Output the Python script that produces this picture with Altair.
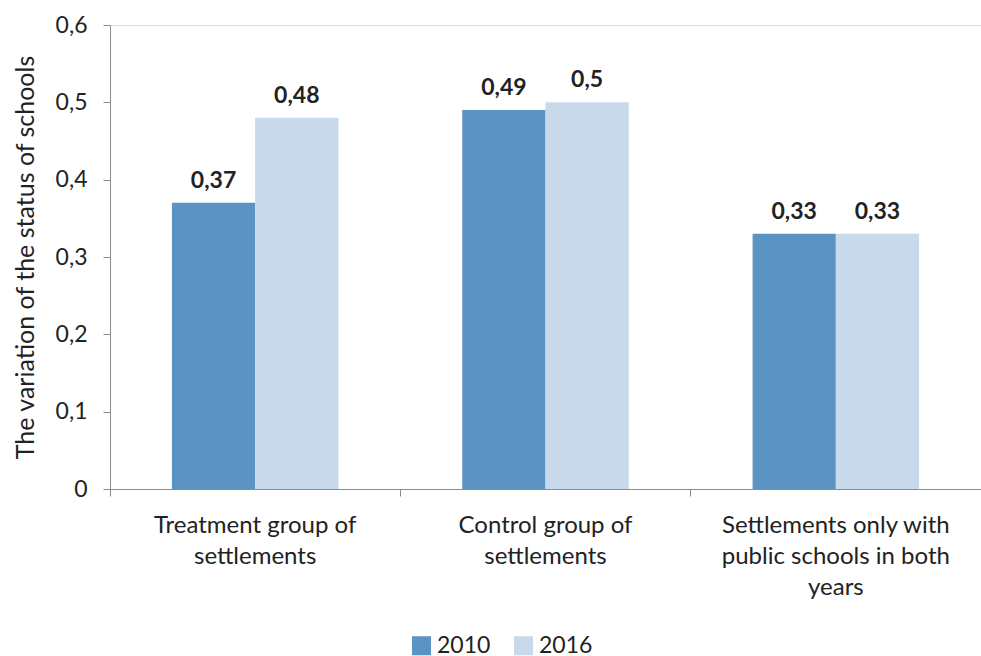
import altair as alt
import pandas as pd

# Groups of settlements and the two survey years
categories = [
    "Treatment group of settlements",
    "Control group of settlements",
    "Settlements only with public schools in both years",
]
category_lines = [
    ["Treatment group of", "settlements"],
    ["Control group of", "settlements"],
    ["Settlements only with", "public schools in both", "years"],
]
years = ["2010", "2016"]
values_2010 = [0.37, 0.49, 0.33]
values_2016 = [0.48, 0.50, 0.33]
colors = ["#5b93c2", "#c7d9ea"]

rows = []
for cat, v10, v16 in zip(categories, values_2010, values_2016):
    rows.append({"group": cat, "year": years[0], "value": v10})
    rows.append({"group": cat, "year": years[1], "value": v16})
df = pd.DataFrame(rows)
df["label"] = df["value"].map(lambda v: f"{v:g}".replace(".", ","))

# Multi-line x labels built from the wrapped category names
label_expr = ""
for cat, lines in zip(categories, category_lines):
    arr = "[" + ",".join(f"'{l}'" for l in lines) + "]"
    label_expr += f"datum.value == '{cat}' ? {arr} : "
label_expr += "datum.value"

FONT = "Lato"
TEXT = "#222222"
AXIS = "#8c8c8c"

x = alt.X(
    "group:N",
    sort=categories,
    title=None,
    scale=alt.Scale(paddingInner=0, paddingOuter=0),
    axis=alt.Axis(
        labelExpr=label_expr,
        labelAngle=0,
        labelFontSize=24,
        labelColor=TEXT,
        labelPadding=17,
        labelLineHeight=31,
        labelLimit=400,
        labelFont=FONT,
        bandPosition=0,
        tickColor=AXIS,
        tickSize=7,
        domainColor=AXIS,
        grid=False,
    ),
)
x_off = alt.XOffset("year:N", sort=years, scale=alt.Scale(paddingOuter=0.744, paddingInner=0))
y = alt.Y(
    "value:Q",
    scale=alt.Scale(domain=[0, 0.6]),
    axis=alt.Axis(
        values=[0, 0.1, 0.2, 0.3, 0.4, 0.5, 0.6],
        labelExpr="datum.value == 0 ? '0' : replace(format(datum.value, '.1f'), '.', ',')",
        labelFontSize=23,
        labelColor=TEXT,
        labelFont=FONT,
        labelPadding=16,
        tickColor=AXIS,
        tickSize=7,
        domainColor=AXIS,
        grid=False,
        title="The variation of the status of schools",
        titleFontSize=25,
        titleFontWeight="normal",
        titleFont=FONT,
        titleColor=TEXT,
        titlePadding=17,
    ),
)

bars = alt.Chart(df).mark_bar().encode(
    x=x,
    xOffset=x_off,
    y=y,
    color=alt.Color(
        "year:N",
        sort=years,
        scale=alt.Scale(domain=years, range=colors),
        legend=alt.Legend(
            title=None,
            orient="none",
            direction="horizontal",
            legendX=300,
            legendY=609,
            symbolType="square",
            symbolSize=361,
            symbolStrokeWidth=0,
            symbolOffset=0,
            labelFontSize=23,
            labelFont=FONT,
            labelColor=TEXT,
            labelOffset=4,
            columnPadding=21,
        ),
    ),
)

labels = alt.Chart(df).mark_text(
    baseline="bottom", dy=-10, fontSize=23, fontWeight="bold", font=FONT, color=TEXT
).encode(x=x, xOffset=x_off, y=y, text="label:N")

chart = (
    alt.layer(bars, labels)
    .properties(width=871, height=464)
    .configure_view(stroke=None)
    .configure(background="white", padding={"left": 13, "top": 14, "right": 0, "bottom": 1})
)

chart.save("out.html", embed_options={"renderer": "svg", "actions": False})
